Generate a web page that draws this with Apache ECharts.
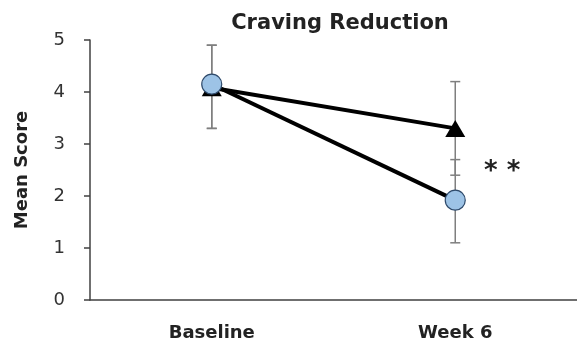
<!DOCTYPE html>
<html><head><meta charset="utf-8">
<script src="https://cdn.jsdelivr.net/npm/echarts@6/dist/echarts.min.js"></script>
<style>html,body{margin:0;padding:0;background:#fff}#c{width:577px;height:347px}</style>
</head><body><div id="c"></div>
<script>
const categories = ['Baseline', 'Week 6'];
const triangleMean = [4.08, 3.3];
const triangleLow = [3.3, 2.4];
const triangleHigh = [4.9, 4.2];
const circleMean = [4.15, 1.92];
const circleLow = [3.3, 1.1];
const circleHigh = [4.9, 2.7];
const yTicks = [0, 1, 2, 3, 4, 5];
const annotation = '* *';

const chart = echarts.init(document.getElementById('c'));
function errData(low, high) {
  return low.map((l, i) => [i, l, high[i]]);
}
function errRender(params, api) {
  const x = api.value(0);
  const lo = api.coord([x, api.value(1)]);
  const hi = api.coord([x, api.value(2)]);
  const hw = 5;
  const st = { stroke: '#7f7f7f', lineWidth: 1.5 };
  return { type: 'group', children: [
    { type: 'line', shape: { x1: lo[0], y1: lo[1], x2: hi[0], y2: hi[1] }, style: st },
    { type: 'line', shape: { x1: lo[0] - hw, y1: lo[1], x2: lo[0] + hw, y2: lo[1] }, style: st },
    { type: 'line', shape: { x1: hi[0] - hw, y1: hi[1], x2: hi[0] + hw, y2: hi[1] }, style: st }
  ]};
}
const F = 'DejaVu Sans';
chart.setOption({
  animation: false,
  backgroundColor: '#fff',
  title: {
    text: 'Craving Reduction', left: 335, top: 8, textAlign: 'center',
    textStyle: { fontFamily: F, fontWeight: 'bold', fontSize: 21, color: '#222' }
  },
  grid: { left: 90, top: 40, width: 494, height: 260 },
  xAxis: {
    type: 'category', data: categories, boundaryGap: true,
    axisLine: { lineStyle: { color: '#404040', width: 1.5 } },
    axisTick: { show: false },
    axisLabel: { margin: 24, fontFamily: F, fontWeight: 'bold', fontSize: 18, color: '#222' }
  },
  yAxis: {
    type: 'value', min: yTicks[0], max: yTicks[yTicks.length - 1], interval: 1,
    name: 'Mean Score', nameLocation: 'middle', nameGap: 59, nameRotate: 90,
    nameTextStyle: { fontFamily: F, fontWeight: 'bold', fontSize: 18, color: '#222' },
    splitLine: { show: false },
    axisLine: { show: true, lineStyle: { color: '#404040', width: 1.5 } },
    axisTick: { show: true, length: 6, lineStyle: { color: '#404040', width: 1.5 } },
    axisLabel: { margin: 25, fontFamily: F, fontSize: 18, color: '#333' }
  },
  graphic: [{
    type: 'text', left: 484, top: 159,
    style: { text: annotation, fontFamily: F, fontWeight: 'bold', fontSize: 26, fill: '#222' }
  }],
  series: [
    { type: 'custom', renderItem: errRender, data: errData(triangleLow, triangleHigh), z: 1 },
    { type: 'custom', renderItem: errRender, data: errData(circleLow, circleHigh), z: 1 },
    { type: 'line', data: triangleMean, z: 2, symbol: 'triangle', symbolSize: [20, 17],
      lineStyle: { color: '#000', width: 4 }, itemStyle: { color: '#000' } },
    { type: 'line', data: circleMean, z: 3, symbol: 'circle', symbolSize: 20,
      lineStyle: { color: '#000', width: 4 },
      itemStyle: { color: '#9dc3e6', borderColor: '#2e4a6b', borderWidth: 1.2 } }
  ]
});
</script></body></html>
